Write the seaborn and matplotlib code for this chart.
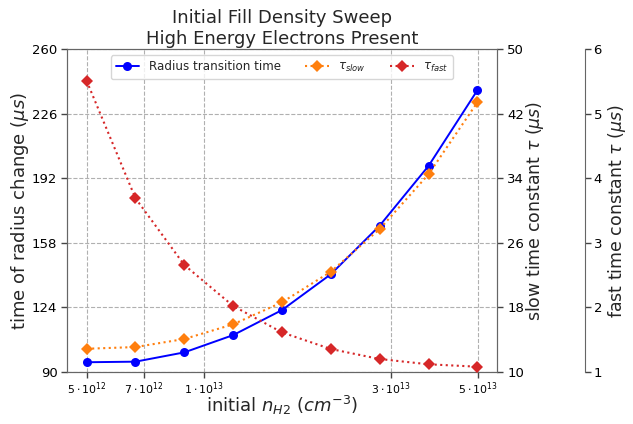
import numpy as np
import pandas as pd
import matplotlib
matplotlib.use("Agg")
import matplotlib.pyplot as plt
import matplotlib.ticker as mticker
import seaborn as sns

# ---- data ----
density = [5.00e12, 6.667e12, 8.889e12, 1.185e13, 1.580e13, 2.107e13, 2.809e13, 3.746e13, 4.995e13]
radius_time = [95.0, 95.3, 100.2, 109.3, 122.5, 141.4, 167.0, 198.5, 238.4]
tau_slow = [12.85, 13.06, 14.06, 15.88, 18.61, 22.41, 27.70, 34.49, 43.42]
tau_fast = [5.51, 3.69, 2.655, 2.02, 1.61, 1.352, 1.197, 1.115, 1.078]

xtick_vals = [5e12, 7e12, 1e13, 3e13, 5e13]
xtick_labels = [r'$5\cdot10^{12}$', r'$7\cdot10^{12}$', r'$1\cdot10^{13}$',
                r'$3\cdot10^{13}$', r'$5\cdot10^{13}$']
minor_vals = [6e12, 8e12, 9e12, 2e13, 4e13]

sns.set_style("white")
plt.rcParams['font.family'] = ['DejaVu Sans']
plt.rcParams['axes.edgecolor'] = '#666666'
plt.rcParams['xtick.color'] = '#444444'
plt.rcParams['ytick.color'] = '#444444'
plt.rcParams['xtick.labelcolor'] = 'black'
plt.rcParams['ytick.labelcolor'] = 'black'

df = pd.DataFrame({"density": density, "radius": radius_time,
                   "slow": tau_slow, "fast": tau_fast})

fig = plt.figure(figsize=(6.33, 4.24), dpi=100)
ax = fig.add_axes([0.106, 0.1233, 0.679, 0.7604])
ax2 = ax.twinx()
ax3 = ax.twinx()
ax3.spines['right'].set_position(('axes', 1.204))
for a in (ax, ax2, ax3):
    a.set_xscale('log')

sns.lineplot(data=df, x="density", y="radius", ax=ax, color='blue', marker='o',
             markersize=6.5, markeredgewidth=0, linewidth=1.4, label='Radius transition time', legend=False)
sns.lineplot(data=df, x="density", y="slow", ax=ax2, color='#ff7f0e', marker='D',
             markersize=6, markeredgewidth=0, linewidth=1.5, linestyle=':', label=r'$\tau_{slow}$', legend=False)
sns.lineplot(data=df, x="density", y="fast", ax=ax3, color='#d62728', marker='D',
             markersize=6, markeredgewidth=0, linewidth=1.5, linestyle=':', label=r'$\tau_{fast}$', legend=False)

ax.set_ylim(90, 260)
ax.set_yticks(np.linspace(90, 260, 6))
ax2.set_ylim(10, 50)
ax2.set_yticks(np.linspace(10, 50, 6))
ax3.set_ylim(1, 6)
ax3.set_yticks(np.linspace(1, 6, 6))

ax.xaxis.set_major_locator(mticker.FixedLocator(xtick_vals))
ax.xaxis.set_major_formatter(mticker.FixedFormatter(xtick_labels))
ax.xaxis.set_minor_locator(mticker.FixedLocator(minor_vals))
ax.xaxis.set_minor_formatter(mticker.NullFormatter())

for a in (ax, ax2, ax3):
    a.tick_params(axis='both', which='major', length=4, width=1, labelsize=9.5, bottom=True, left=(a is ax), right=(a is not ax))
    a.tick_params(axis='x', which='minor', length=2.5, width=0.8)
ax.tick_params(axis='x', labelsize=7.8, pad=2.5)
ax.tick_params(axis='y', pad=3)
ax3.tick_params(axis='y', pad=2.5)
ax.grid(True, which='major', linestyle='--', color='#b0b0b0', linewidth=0.8)
ax2.grid(False)
ax3.grid(False)
for s in ('top', 'bottom', 'left'):
    ax3.spines[s].set_visible(False)

ax.set_xlabel(r'initial $n_{H2}$ ($cm^{-3}$)', fontsize=13)
ax.set_ylabel(r'time of radius change ($\mu s$)', fontsize=13)
ax2.set_ylabel(r'slow time constant $\tau$ ($\mu s$)', fontsize=12.5)
ax3.set_ylabel(r'fast time constant $\tau$ ($\mu s$)', fontsize=12.5)
ax.xaxis.set_label_coords(0.5, -0.07)
ax.yaxis.set_label_coords(-0.085, 0.5)
ax2.yaxis.set_label_coords(1.064, 0.5)
ax3.yaxis.set_label_coords(1.254, 0.5)
ax.set_title('Initial Fill Density Sweep\nHigh Energy Electrons Present', fontsize=13, pad=4)

h1, l1 = ax.get_legend_handles_labels()
h2, l2 = ax2.get_legend_handles_labels()
h3, l3 = ax3.get_legend_handles_labels()
ax.legend(h1 + h2 + h3, l1 + l2 + l3, loc='upper center', ncol=3, fontsize=8.6,
          bbox_to_anchor=(0.5, 1.0), frameon=True)

fig.savefig('out.png', dpi=100)
